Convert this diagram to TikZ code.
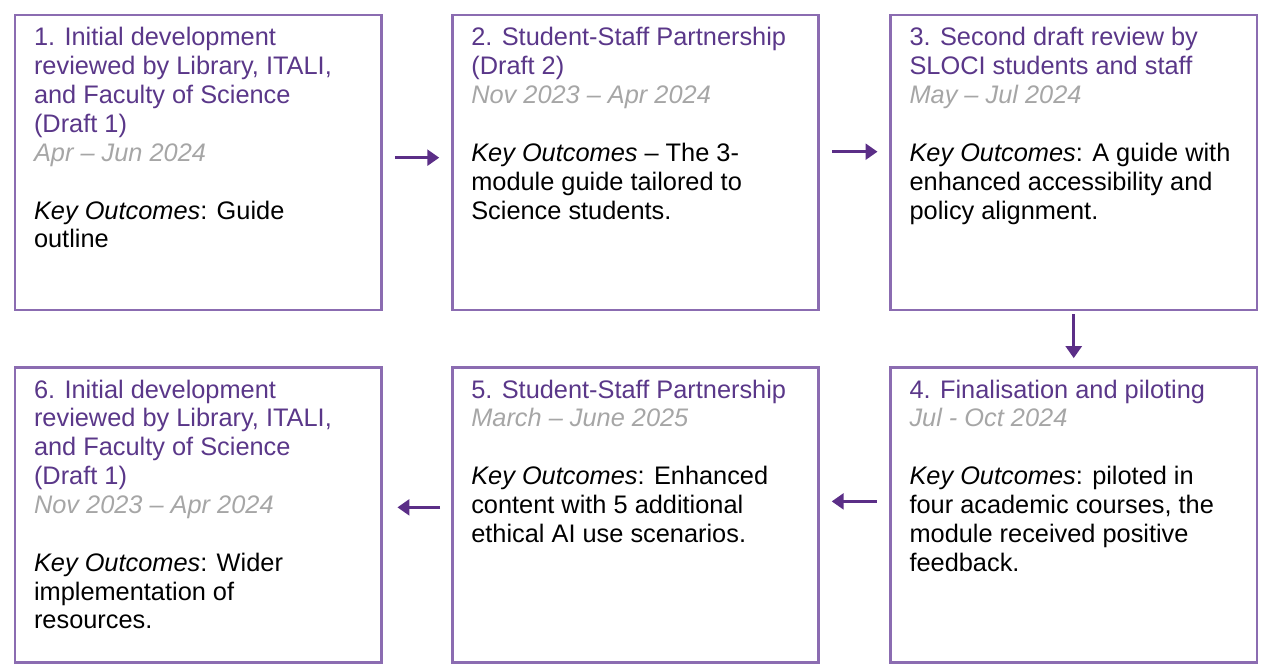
\documentclass[tikz,border=0pt]{standalone}
\usepackage{fontspec}
\setmainfont{Liberation Sans}
\usetikzlibrary{positioning,arrows.meta}
\definecolor{boxline}{HTML}{8B6CB1}
\definecolor{steptitle}{HTML}{5A3789}
\definecolor{steparrow}{HTML}{5B2E87}
\definecolor{stepdate}{HTML}{A6A6A6}
\newcommand{\steptext}[3]{\parbox[t][5.43cm][t]{6.6cm}{\raggedright\fontsize{14.5}{16.5}\selectfont
\color{steptitle}#1\\\color{stepdate}\itshape #2\\[16.5pt]\color{black}\upshape #3}}
\begin{document}
\begin{tikzpicture}[stepbox/.style={draw=boxline,line width=1.4pt,inner xsep=0.38cm,inner ysep=0.25cm},
				flow/.style={draw=steparrow,line width=1.5pt,-{Triangle[length=0.24cm,width=0.32cm]},shorten <=0.25cm,shorten >=0.24cm}]
\node[stepbox] (s1) {\steptext{1. Initial development\\reviewed by Library, ITALI,\\and Faculty of Science\\(Draft 1)}{Apr -- Jun 2024}{\textit{Key Outcomes}: Guide\\outline}};
\node[stepbox,right=1.38cm of s1] (s2) {\steptext{2. Student-Staff Partnership\\(Draft 2)}{Nov 2023 -- Apr 2024}{\textit{Key Outcomes} -- The 3-\\module guide tailored to\\Science students.}};
\node[stepbox,right=1.4cm of s2] (s3) {\steptext{3. Second draft review by\\SLOCI students and staff}{May -- Jul 2024}{\textit{Key Outcomes}: A guide with\\enhanced accessibility and\\policy alignment.}};
\node[stepbox,below=1.1cm of s3] (s4) {\steptext{4. Finalisation and piloting}{Jul - Oct 2024}{\textit{Key Outcomes}: piloted in\\four academic courses, the\\module received positive\\feedback.}};
\node[stepbox,left=1.4cm of s4] (s5) {\steptext{5. Student-Staff Partnership}{March -- June 2025}{\textit{Key Outcomes}: Enhanced\\content with 5 additional\\ethical AI use scenarios.}};
\node[stepbox,left=1.38cm of s5] (s6) {\steptext{6. Initial development\\reviewed by Library, ITALI,\\and Faculty of Science\\(Draft 1)}{Nov 2023 -- Apr 2024}{\textit{Key Outcomes}: Wider\\implementation of\\resources.}};
\draw[flow] ([yshift=0.1cm]s1.east) -- ([yshift=0.1cm]s2.west);
\draw[flow] ([yshift=0.22cm]s2.east) -- ([yshift=0.22cm]s3.west);
\draw[flow,shorten <=0.06cm,shorten >=0.16cm] (s3.south) -- (s4.north);
\draw[flow] ([yshift=0.27cm]s4.west) -- ([yshift=0.27cm]s5.east);
\draw[flow,shorten <=0.22cm,shorten >=0.3cm] ([yshift=0.15cm]s5.west) -- ([yshift=0.15cm]s6.east);
\useasboundingbox ([shift={(-0.28,0.28)}]s1.north west) rectangle ([shift={(0.12,-0.14)}]s4.south east);
\end{tikzpicture}
\end{document}
